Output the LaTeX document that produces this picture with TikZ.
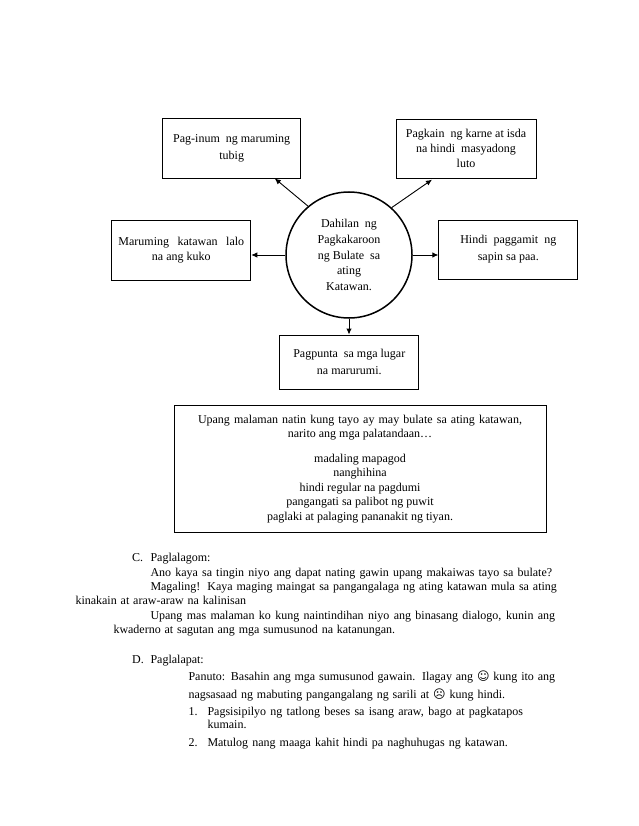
\documentclass[tikz,border=0pt]{standalone}
\usepackage{fontspec}
\setmainfont{Liberation Serif}
\newfontfamily\symfont{DejaVu Sans}
\usetikzlibrary{calc,arrows.meta}
\tikzset{
	reason/.style={draw, line width=0.9pt, rectangle, align=center, inner sep=0pt},
	cause/.style={draw, line width=1.5pt, circle, align=center, inner sep=0pt, minimum size=126pt, font=\fontsize{12}{15.6}\selectfont},
	arrow/.style={-{Latex[length=6pt,width=5.5pt]}, line width=0.9pt},
	line/.style={anchor=base west, inner sep=0pt},
	mid/.style={anchor=base, inner sep=0pt},
}
\newcommand{\fitline}[2]{\makebox[#1pt][s]{#2}}
\begin{document}
\begin{tikzpicture}[x=1pt,y=-1pt,font=\fontsize{12}{15}\selectfont]
	\path[use as bounding box, fill=white] (0,0) rectangle (638,826);
	% centre and its reasons
	\node[cause] (dahilan) at (349,255) {Dahilan\ \ ng\\Pagkakaroon\\ng Bulate\ \ sa\\ating\\Katawan.};
	\node[reason, minimum width=138pt, minimum height=60pt] (inum) at (231.7,148) {Pag-inum\ \ ng maruming\\[2pt]tubig};
	\node[reason, minimum width=140pt, minimum height=59pt] (pagkain) at (466,148.6) {Pagkain\ \ ng karne at isda\\na hindi\ \ masyadong\\luto};
	\node[reason, minimum width=139pt, minimum height=60pt] (maruming) at (181.3,250) {\fitline{125.7}{Maruming katawan lalo}\\na ang kuko};
	\node[reason, minimum width=139pt, minimum height=59pt] (hindi) at (508.3,249.5) {Hindi\ \ paggamit\ \ ng\\[2pt]sapin sa paa.};
	\node[reason, minimum width=139pt, minimum height=54pt] (pagpunta) at (349.3,362) {Pagpunta\ \ sa mga lugar\\[2pt]na marurumi.};
	
	% arrows out of the circle
	\draw[arrow] (dahilan.130) -- ($(inum.south west)!0.81!(inum.south east)$);
	\draw[arrow, shorten >=2pt] (dahilan.48) -- ($(pagkain.south west)!0.27!(pagkain.south east)$);
	\draw[arrow] (dahilan.west) -- (dahilan.west -| maruming.east);
	\draw[arrow] (dahilan.east) -- (dahilan.east -| hindi.west);
	\draw[arrow] (dahilan.south) -- (dahilan.south |- pagpunta.north);
	
	% box with the signs
	\node[reason, minimum width=372pt, minimum height=127pt] (signs) at (360.8,469.4) {};
	\node[mid] (signsa) at (360,423) {\fitline{324}{Upang malaman natin kung tayo ay may bulate sa ating katawan,}};
	\node[mid] (signsb) at (360,437.5) {narito ang mga palatandaan…};
	\node[mid] (signsc) at (360,462.7) {madaling mapagod};
	\node[mid] (signsd) at (360,476.5) {nanghihina};
	\node[mid] (signse) at (360,491) {hindi regular na pagdumi};
	\node[mid] (signsf) at (360,505) {pangangati sa palibot ng puwit};
	\node[mid] (signsg) at (360,520) {paglaki at palaging pananakit ng tiyan.};
	
	% part C
	\node[line] (clabel) at (132,561) {C.};
	\node[line] (chead) at (150.3,561) {Paglalagom:};
	\node[line] (cline1) at (150.3,576.7) {\fitline{401.7}{Ano kaya sa tingin niyo ang dapat nating gawin upang makaiwas tayo sa bulate?}};
	\node[line] (cline2) at (150.3,590.7) {\fitline{406.4}{Magaling! Kaya maging maingat sa pangangalaga ng ating katawan mula sa ating}};
	\node[line] (cline3) at (75.3,604.5) {\fitline{170.7}{kinakain at araw-araw na kalinisan}};
	\node[line] (cline4) at (150.3,619.7) {\fitline{404.7}{Upang mas malaman ko kung naintindihan niyo ang binasang dialogo, kunin ang}};
	\node[line] (cline5) at (113.3,633.7) {\fitline{281.7}{kwaderno at sagutan ang mga sumusunod na katanungan.}};
	
	% part D
	\node[line] (dlabel) at (132,663) {D.};
	\node[line] (dhead) at (150.3,663) {Paglalapat:};
	\node[line] (dline1) at (188.3,680.7) {\fitline{366.7}{Panuto: Basahin ang mga sumusunod gawain. Ilagay ang {\symfont ☺} kung ito ang}};
	\node[line] (dline2) at (188.3,698.7) {\fitline{316.7}{nagsasaad ng mabuting pangangalang ng sarili at {\symfont ☹} kung hindi.}};
	\node[line] (num1) at (188.3,715) {1.};
	\node[line] (item1) at (207.3,715) {\fitline{315.4}{Pagsisipilyo ng tatlong beses sa isang araw, bago at pagkatapos}};
	\node[line] (item1b) at (207.3,728.7) {kumain.};
	\node[line] (num2) at (188.3,746) {2.};
	\node[line] (item2) at (207.3,746) {\fitline{300.4}{Matulog nang maaga kahit hindi pa naghuhugas ng katawan.}};
\end{tikzpicture}
\end{document}
